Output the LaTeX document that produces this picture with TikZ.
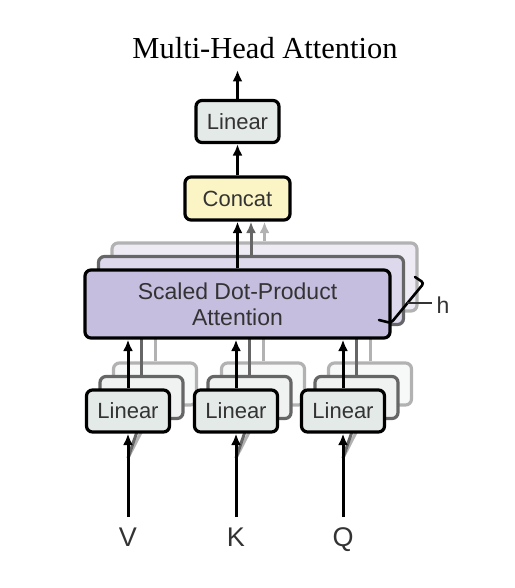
\documentclass[tikz,border=0pt]{standalone}
\usepackage{fontspec}
\setmainfont{Liberation Serif}
\setsansfont{Liberation Sans}
\usetikzlibrary{arrows.meta}
\definecolor{linfill}{HTML}{E4EAE7}
\definecolor{catfill}{HTML}{FBF4C4}
\definecolor{sdpafill}{HTML}{C6BEDF}
\definecolor{txtgray}{HTML}{333333}
\begin{document}
\begin{tikzpicture} [
                x=1pt, y=-1pt,
                box/.style={rectangle,rounded corners=6pt,line width=3.2pt,inner sep=0pt,
                    font=\sffamily\fontsize{22}{26}\selectfont,text=txtgray},
                lin/.style={box,minimum width=83pt,minimum height=42pt},
                concat/.style={box,draw,fill=catfill,minimum width=105pt,minimum height=43pt},
                sdpa/.style={box,minimum width=305pt,minimum height=68pt,align=center,
                    font=\sffamily\fontsize{23}{26}\selectfont},
                inlab/.style={inner sep=0pt,text height=19.5pt,text depth=0pt,
                    font=\sffamily\fontsize{27}{30}\selectfont,text=txtgray},
                flow/.style={draw,line width=3pt,-{Latex[length=11.5pt,width=10pt]}},
            ]
            \useasboundingbox (0,0) rectangle (514,588);
            % First we draw the title and the top blocks
            \node[font=\fontsize{30.5}{36}\selectfont] (title) at (265,48) {Multi-Head Attention};
            \node[lin,draw,fill=linfill] (linout) at (237.5,121.5) {Linear};
            \node[concat] (cat) at (237.5,198.5) {Concat};
            \coordinate (out) at (237.5,70);
            \path[flow] (cat) -- (linout);
            \path[flow] (linout) -- (out);
            % Inputs
            \foreach \n/\x in {V/128,K/236,Q/343} {
                \node[inlab] (in\n) at (\x,537) {\n};
                \coordinate (split\n) at (\x,458);
            }
            % Heads, from the back to the front
            \foreach \l/\shade in {2/30,1/60,0/100} {
                \node[sdpa,draw=black!\shade,fill=sdpafill!\shade] (sdpa\l)
                    at ({237.5+13.5*\l},{304-13.5*\l}) {\ifnum\l=0 Scaled Dot-Product\\Attention\fi};
                \path[flow,draw=black!\shade] (sdpa\l.north) -- (sdpa\l.north |- cat.south);
                \foreach \n/\x in {V/128,K/236,Q/343} {
                    \ifnum\l>0
                        \path[flow,draw=black!\shade] (split\n) -- ({\x+13.5*\l},{432-13.5*\l});
                    \fi
                    \node[lin,draw=black!\shade,fill=linfill!\shade] (lin\n\l)
                        at ({\x+13.5*\l},{411-13.5*\l}) {\ifnum\l=0 Linear\fi};
                    \path[flow,draw=black!\shade] (lin\n\l.north) -- (lin\n\l.north |- sdpa\l.south);
                }
            }
            \foreach \n in {V,K,Q}
                \path[flow,shorten <=10pt] (in\n.north) -- (lin\n0.south);
            % the h bracket
            \draw[line width=2.6pt,rounded corners=3pt,line cap=round] (415,277) -- (424,283) -- (391,323) -- (379,320);
            \node[inlab,font=\sffamily\fontsize{23}{26}\selectfont,text height=16pt] (hlab) at (443,305) {h};
            \coordinate (hook) at (407,303);
            \draw[line width=2pt,black!80] (hook) -- ([xshift=-4pt]hook -| hlab.west);
        \end{tikzpicture}
\end{document}
